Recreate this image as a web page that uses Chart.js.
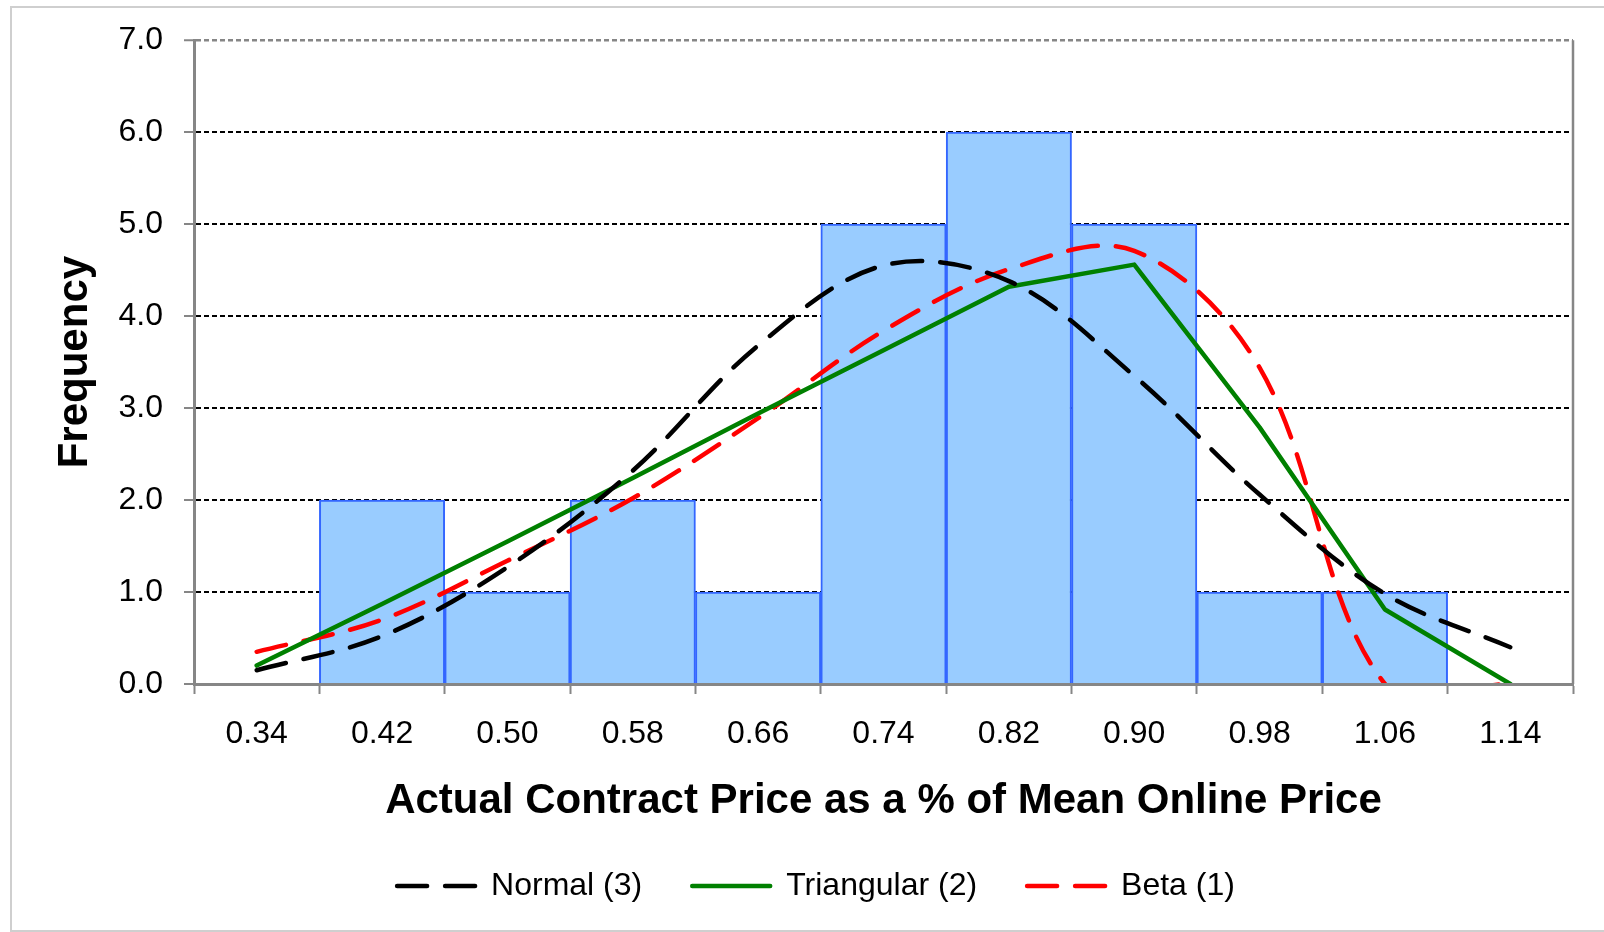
<!DOCTYPE html>
<html>
<head>
<meta charset="utf-8">
<script src="https://cdn.jsdelivr.net/npm/chart.js@4.4.1/dist/chart.umd.min.js"></script>
<style>
  html, body { margin: 0; padding: 0; background: #ffffff; }
  canvas { display: block; }
</style>
</head>
<body>
<canvas id="chart" width="1604" height="932"></canvas>
<script>
// Bin centres (actual contract price as a share of mean online price)
const categories = ['0.34', '0.42', '0.50', '0.58', '0.66', '0.74', '0.82', '0.90', '0.98', '1.06', '1.14'];

// Observed counts per bin
const observedFrequency = [0, 2, 1, 2, 1, 5, 6, 5, 1, 1, 0];

// Fitted distributions, scaled to expected frequency per bin
const normalFit     = [0.15, 0.52, 1.27, 2.32, 3.68, 4.55, 4.38, 3.35, 2.06, 0.98, 0.40];
const triangularFit = [0.20, 0.87, 1.55, 2.24, 2.94, 3.63, 4.32, 4.56, 2.79, 0.81, 0.00];
const betaFit       = [0.35, 0.70, 1.34, 2.02, 2.89, 3.84, 4.51, 4.71, 3.44, 0.00, 0.00];

const FONT = '"Liberation Sans", Arial, Helvetica, sans-serif';
const AXIS_GREY = '#868686';
const LINE_WIDTH = 4.5;

// White page, light outer frame, and the plot-area edge on the right
const framePlugin = {
  id: 'frame',
  beforeDraw(chart) {
    const ctx = chart.ctx;
    ctx.save();
    ctx.fillStyle = '#ffffff';
    ctx.fillRect(0, 0, chart.width, chart.height);
    ctx.strokeStyle = '#cfcfcf';
    ctx.lineWidth = 2;
    ctx.strokeRect(11, 7, chart.width + 20, chart.height - 8);
    ctx.restore();
  },
  afterDraw(chart) {
    const {ctx, chartArea} = chart;
    ctx.save();
    ctx.strokeStyle = AXIS_GREY;
    ctx.lineWidth = 2.5;
    ctx.beginPath();
    ctx.moveTo(chartArea.right, chartArea.top);
    ctx.lineTo(chartArea.right, chartArea.bottom);
    ctx.stroke();
    ctx.restore();
  }
};

const lineCommon = {
  type: 'line',
  borderWidth: LINE_WIDTH,
  pointRadius: 0,
  pointHoverRadius: 0,
  fill: false,
  borderCapStyle: 'round',
  borderJoinStyle: 'round',
  clip: { left: 10, right: 10, top: 10, bottom: 0 }
};

new Chart(document.getElementById('chart'), {
  type: 'bar',
  data: {
    labels: categories,
    datasets: [
      Object.assign({}, lineCommon, {
        label: 'Normal (3)',
        data: normalFit,
        borderColor: '#000000',
        backgroundColor: '#000000',
        borderDash: [30, 18],
        tension: 0.35,
        order: 1
      }),
      Object.assign({}, lineCommon, {
        label: 'Triangular (2)',
        data: triangularFit,
        borderColor: '#008000',
        backgroundColor: '#008000',
        tension: 0,
        order: 2
      }),
      Object.assign({}, lineCommon, {
        label: 'Beta (1)',
        data: betaFit,
        borderColor: '#ff0000',
        backgroundColor: '#ff0000',
        borderDash: [30, 18],
        tension: 0.35,
        capBezierPoints: false,
        order: 3
      }),
      {
        type: 'bar',
        label: 'Frequency',
        data: observedFrequency,
        backgroundColor: '#99ccff',
        borderColor: '#3366ff',
        borderWidth: 2,
        borderSkipped: 'bottom',
        barPercentage: 1.0,
        categoryPercentage: 1.0,
        order: 10
      }
    ]
  },
  options: {
    responsive: false,
    animation: false,
    events: [],
    layout: { padding: { left: 59, right: 31, top: 39, bottom: 20 } },
    plugins: {
      tooltip: { enabled: false },
      legend: {
        position: 'bottom',
        align: 'center',
        labels: {
          usePointStyle: true,
          pointStyle: 'line',
          pointStyleWidth: 78,
          padding: 50,
          color: '#000000',
          font: { family: FONT, size: 32 },
          filter: (item) => item.text !== 'Frequency',
          generateLabels(chart) {
            const items = Chart.defaults.plugins.legend.labels.generateLabels(chart);
            items.forEach((item) => {
              const ds = chart.data.datasets[item.datasetIndex];
              item.lineDash = ds.borderDash || [];
              item.lineCap = 'round';
              item.lineWidth = LINE_WIDTH;
              item.strokeStyle = ds.borderColor;
              item.fillStyle = ds.borderColor;
            });
            return items;
          }
        }
      }
    },
    scales: {
      x: {
        type: 'category',
        offset: true,
        afterFit(scale) { scale.height = 136; },
        grid: {
          offset: true,
          drawOnChartArea: false,
          drawTicks: true,
          tickLength: 10,
          tickWidth: 2,
          tickColor: AXIS_GREY,
          tickBorderDash: []
        },
        border: { display: true, color: AXIS_GREY, width: 3, z: 1 },
        ticks: {
          color: '#000000',
          padding: 21,
          maxRotation: 0,
          autoSkip: false,
          font: { family: FONT, size: 32 }
        },
        title: {
          display: true,
          text: 'Actual Contract Price as a % of Mean Online Price',
          color: '#000000',
          font: { family: FONT, size: 42, weight: 'bold', lineHeight: 0.9 },
          padding: { top: 0, bottom: 0 }
        }
      },
      y: {
        min: 0,
        max: 7,
        afterFit(scale) { scale.width = 135; },
        ticks: {
          stepSize: 1,
          color: '#000000',
          padding: 21,
          font: { family: FONT, size: 32 },
          callback: (v) => Number(v).toFixed(1)
        },
        grid: {
          drawOnChartArea: true,
          drawTicks: true,
          tickLength: 10,
          tickWidth: 2,
          tickColor: AXIS_GREY,
          tickBorderDash: [],
          lineWidth: (c) => (c.tick && c.tick.value === 7 ? 2.5 : 2),
          color: (c) => (c.tick && c.tick.value === 7 ? AXIS_GREY : '#000000')
        },
        border: { display: true, color: AXIS_GREY, width: 3, z: 1, dash: [5, 3] },
        title: {
          display: true,
          text: 'Frequency',
          color: '#000000',
          font: { family: FONT, size: 42, weight: 'bold', lineHeight: 0.76 },
          padding: { top: 0, bottom: 0 }
        }
      }
    }
  },
  plugins: [framePlugin]
});
</script>
</body>
</html>
